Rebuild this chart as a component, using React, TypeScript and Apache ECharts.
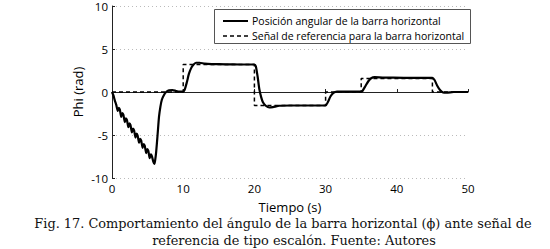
import React, { useEffect, useRef } from "react";
import * as echarts from "echarts";

const seriesNames = [
  "Posición angular de la barra horizontal",
  "Señal de referencia para la barra horizontal",
];

// Response of the horizontal bar angle [time (s), phi (rad)]
const responseData: [number, number][] = [
  [0, 0], [0.2, -0.4], [0.4, -1.0], [0.6, -1.5], [0.8, -2.2], [0.95, -1.85],
  [1.1, -2.05], [1.3, -2.9], [1.45, -2.45], [1.6, -2.65], [1.8, -3.5], [1.95, -3.05],
  [2.1, -3.25], [2.3, -4.1], [2.45, -3.65], [2.6, -3.85], [2.8, -4.7], [2.95, -4.25],
  [3.1, -4.45], [3.3, -5.3], [3.45, -4.85], [3.6, -5.05], [3.8, -5.9], [3.95, -5.45],
  [4.1, -5.65], [4.3, -6.5], [4.45, -6.05], [4.6, -6.25], [4.8, -7.1], [4.95, -6.65],
  [5.1, -6.85], [5.3, -7.7], [5.45, -7.25], [5.6, -7.45], [5.8, -8.1], [5.95, -8.35],
  [6.05, -8.0], [6.2, -7.0], [6.4, -5.0], [6.6, -2.9], [6.8, -1.7], [7.0, -0.9],
  [7.3, -0.35], [7.6, 0.0], [8.0, 0.2], [8.5, 0.22], [9.0, 0.12], [9.5, 0.05],
  [10.0, 0.05], [10.2, 0.25], [10.5, 1.1], [10.8, 2.1], [11.1, 2.75], [11.4, 3.15],
  [11.8, 3.4], [12.3, 3.4], [13, 3.3], [14, 3.25], [16, 3.22], [18, 3.2],
  [20, 3.2], [20.2, 3.0], [20.45, 1.8], [20.7, 0.3], [20.95, -0.6], [21.2, -1.2],
  [21.6, -1.6], [22.1, -1.8], [22.6, -1.75], [23.5, -1.6], [25, -1.57], [30, -1.57],
  [30.3, -1.2], [30.7, -0.5], [31.1, -0.1], [31.6, 0.05], [32.5, 0.05], [35, 0.05],
  [35.2, 0.15], [35.6, 0.7], [36.0, 1.25], [36.4, 1.6], [36.9, 1.72], [38, 1.68],
  [41, 1.65], [45, 1.65], [45.3, 1.4], [45.7, 0.7], [46.1, 0.2], [46.5, -0.05],
  [47, -0.08], [48, 0], [50, 0],
];

// Step reference signal [time (s), phi (rad)]
const referenceData: [number, number][] = [
  [0, 0], [10, 0], [10, 3.2], [20, 3.2], [20, -1.57], [30, -1.57],
  [30, 0], [35, 0], [35, 1.57], [45, 1.57], [45, 0], [50, 0],
];

const xTicks = { min: 0, max: 50, interval: 10 };
const yTicks = { min: -10, max: 10, interval: 5 };

const xTitle = "Tiempo (s)";
const yTitle = "Phi (rad)";
const captionLines = [
  "Fig. 17. Comportamiento del ángulo de la barra horizontal (ϕ) ante señal de",
  "referencia de tipo escalón. Fuente: Autores",
];

const SANS = "Open Sans, DejaVu Sans, sans-serif";
const SERIF = "DejaVu Serif, Liberation Serif, serif";

export default function App() {
  const ref = useRef<HTMLDivElement>(null);

  useEffect(() => {
    if (!ref.current) return;
    const chart = echarts.init(ref.current, undefined, { renderer: "svg" });
    chart.setOption({
      animation: false,
      backgroundColor: "#ffffff",
      grid: { left: 112, right: 82, top: 6, height: 172, containLabel: false },
      xAxis: {
        type: "value",
        min: xTicks.min,
        max: xTicks.max,
        interval: xTicks.interval,
        name: xTitle,
        nameLocation: "middle",
        nameGap: 22,
        nameMoveOverlap: false,
        nameTextStyle: { fontFamily: SANS, fontSize: 13, color: "#000" },
        axisLine: { lineStyle: { color: "#222", width: 1 } },
        axisTick: { inside: true, length: 3, lineStyle: { color: "#222" } },
        axisLabel: { fontFamily: SANS, fontSize: 11.5, color: "#000", margin: 4 },
        splitLine: { show: false },
      },
      yAxis: {
        type: "value",
        min: yTicks.min,
        max: yTicks.max,
        interval: yTicks.interval,
        name: yTitle,
        nameLocation: "middle",
        nameGap: 28,
        nameMoveOverlap: false,
        nameTextStyle: { fontFamily: SANS, fontSize: 13, color: "#000" },
        axisLine: { show: true, lineStyle: { color: "#222", width: 1 } },
        axisTick: { show: true, inside: true, length: 3, lineStyle: { color: "#222" } },
        axisLabel: { fontFamily: SANS, fontSize: 11.5, color: "#000", margin: 4 },
        splitLine: { show: true, lineStyle: { color: "#bbb", type: [1, 3], width: 1 } },
      },
      graphic: [
        {
          type: "rect",
          shape: { x: 214.5, y: 9.5, width: 256, height: 34 },
          style: { fill: "#fff", stroke: "#555", lineWidth: 1 },
          z: 10,
        },
        {
          type: "line",
          shape: { x1: 223, y1: 21, x2: 248, y2: 21 },
          style: { stroke: "#000", lineWidth: 2 },
          z: 11,
        },
        {
          type: "line",
          shape: { x1: 223, y1: 36, x2: 248, y2: 36 },
          style: { stroke: "#000", lineWidth: 1.5, lineDash: [4, 3] },
          z: 11,
        },
        {
          type: "text",
          x: 252,
          y: 21,
          style: {
            text: seriesNames[0],
            font: `10.5px ${SANS}`,
            fill: "#000",
            textAlign: "left",
            textVerticalAlign: "middle",
          },
          z: 11,
        },
        {
          type: "text",
          x: 252,
          y: 36,
          style: {
            text: seriesNames[1],
            font: `10.5px ${SANS}`,
            fill: "#000",
            textAlign: "left",
            textVerticalAlign: "middle",
          },
          z: 11,
        },
        {
          type: "text",
          x: 283,
          y: 223,
          style: {
            text: captionLines[0],
            font: `12.9px ${SERIF}`,
            fill: "#111",
            textAlign: "center",
            textVerticalAlign: "middle",
          },
        },
        {
          type: "text",
          x: 294,
          y: 240,
          style: {
            text: captionLines[1],
            font: `12.9px ${SERIF}`,
            fill: "#111",
            textAlign: "center",
            textVerticalAlign: "middle",
          },
        },
      ],
      series: [
        {
          name: seriesNames[0],
          type: "line",
          data: responseData,
          showSymbol: false,
          symbol: "none",
          smooth: 0.2,
          lineStyle: { color: "#000", width: 2.2 },
          itemStyle: { color: "#000" },
          z: 3,
        },
        {
          name: seriesNames[1],
          type: "line",
          data: referenceData,
          showSymbol: false,
          symbol: "none",
          lineStyle: { color: "#000", width: 1.5, type: [4, 3] },
          itemStyle: { color: "#000" },
          z: 2,
        },
      ],
    });
    return () => chart.dispose();
  }, []);

  return (
    <div
      ref={ref}
      style={{ width: 550, height: 249, position: "absolute", left: 0, top: 0 }}
    />
  );
}
